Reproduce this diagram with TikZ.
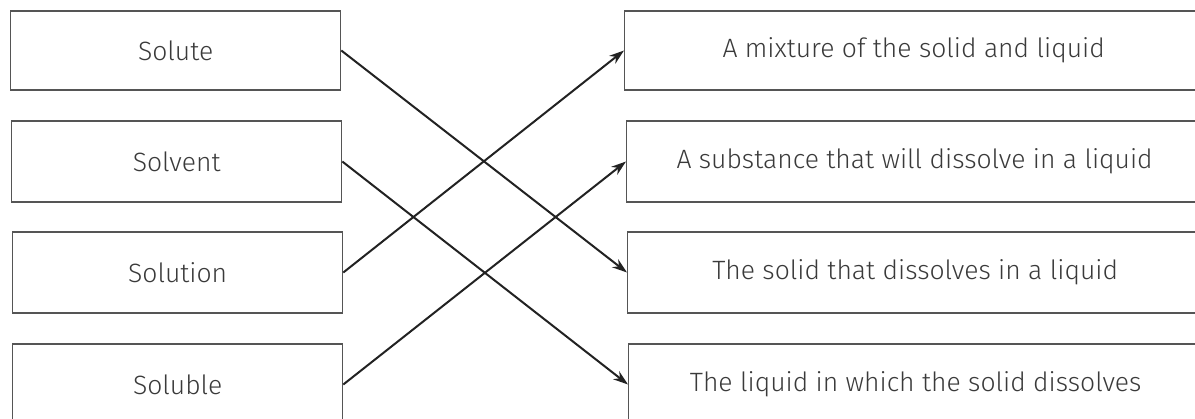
\documentclass[tikz,border=0pt]{standalone}
\usepackage{fontspec}
\setmainfont{Fira Sans Light}
\usetikzlibrary{arrows.meta}
\definecolor{boxline}{HTML}{555555}
\definecolor{txt}{HTML}{3a3a3a}
\definecolor{arr}{HTML}{222222}
\begin{document}
\begin{tikzpicture}[x=1pt,y=-1pt,
  card/.style={draw=boxline, line width=1.3pt, inner sep=0pt, text=txt,
    font=\fontsize{26.5}{31}\selectfont, anchor=west, minimum height=81pt},
  lcard/.style={card, minimum width=330pt},
  rcard/.style={card, minimum width=578pt},
  conn/.style={draw=arr, line width=2pt, -{Stealth[length=15pt,width=10pt]}}
]
\useasboundingbox (0,0) rectangle (1195,418);
\begin{scope}
\clip (0,0) rectangle (1195,418);
\node[lcard, minimum height=79pt] (solute) at (10,50.5) {Solute};
\node[lcard] (solvent) at (11,161.5) {Solvent};
\node[lcard] (solution) at (12,272.5) {Solution};
\node[lcard] (soluble) at (12,384.5) {Soluble};
\node[rcard, minimum height=79pt] (mixture) at (624,50.5) {A mixture of the solid and liquid};
\node[rcard, minimum width=576pt] (substance) at (626,161.5) {A substance that will dissolve in a liquid};
\node[rcard, minimum width=575pt] (solid) at (627,272.5) {The solid that dissolves in a liquid};
\node[rcard, minimum width=574pt] (liquid) at (628,384.5) {The liquid in which the solid dissolves};
\end{scope}
\draw[conn] (solute.east) -- (solid.west);
\draw[conn] (solvent.east) -- (liquid.west);
\draw[conn] (solution.east) -- (mixture.west);
\draw[conn] (soluble.east) -- (substance.west);
\end{tikzpicture}
\end{document}
